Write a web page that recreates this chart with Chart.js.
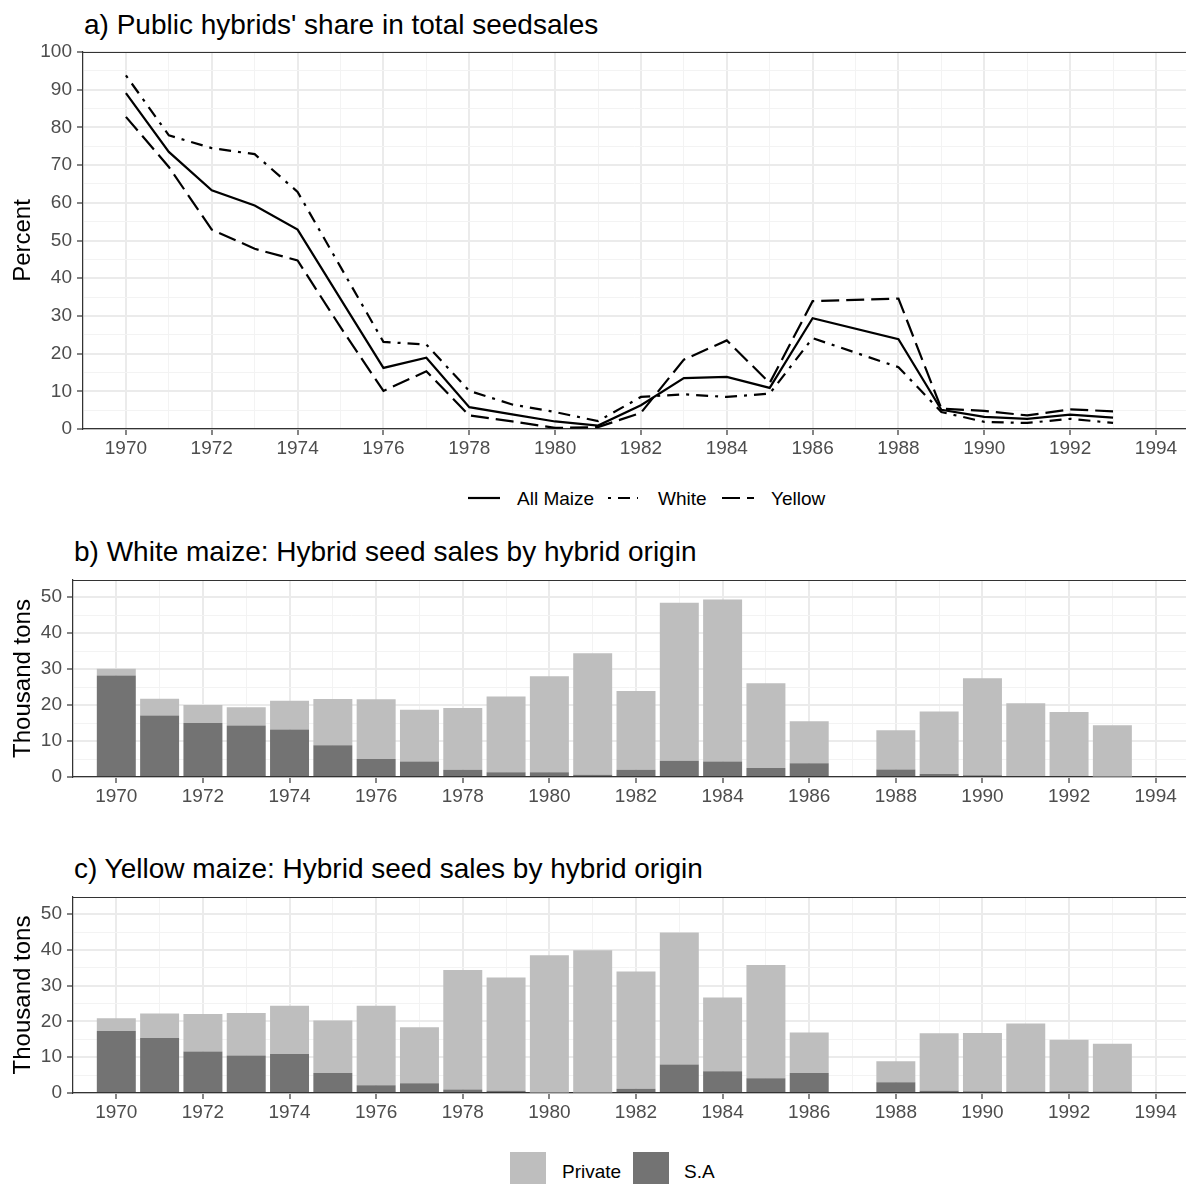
<!DOCTYPE html>
<html>
<head>
<meta charset="utf-8">
<title>Maize hybrid seed sales</title>
<script src="https://cdn.jsdelivr.net/npm/chart.js@4/dist/chart.umd.min.js"></script>
<style>
  body { margin: 0; background: #fff; font-family: "Liberation Sans", Arial, sans-serif; }
  #page { position: relative; width: 1186px; height: 1184px; overflow: hidden; }
  #page canvas { position: absolute; left: 0; }
  .title { position: absolute; font-size: 28px; line-height: 28px; color: #000; white-space: nowrap; }
  .key { position: absolute; font-size: 19px; line-height: 19px; color: #000; white-space: nowrap; }
  .swatch { position: absolute; width: 36px; height: 36px; }
</style>
</head>
<body>
<div id="page">
  <div class="title" style="left:84px; top:11px">a) Public hybrids' share in total seedsales</div>
  <canvas id="shareChart" width="1186" height="470" style="top:0"></canvas>

  <!-- line legend -->
  <svg style="position:absolute; left:460px; top:488px" width="310" height="20">
    <line x1="8" y1="10" x2="40" y2="10" stroke="#000" stroke-width="2.2"/>
    <line x1="148" y1="10" x2="178" y2="10" stroke="#000" stroke-width="2.2" stroke-dasharray="3 7 12 7"/>
    <line x1="262" y1="10" x2="294" y2="10" stroke="#000" stroke-width="2.2" stroke-dasharray="18 7"/>
  </svg>
  <div class="key" style="left:517px; top:489px">All Maize</div>
  <div class="key" style="left:658px; top:489px">White</div>
  <div class="key" style="left:771px; top:489px">Yellow</div>

  <div class="title" style="left:74px; top:538px">b) White maize: Hybrid seed sales by hybrid origin</div>
  <canvas id="whiteChart" width="1186" height="280" style="top:540px"></canvas>

  <div class="title" style="left:74px; top:855px">c) Yellow maize: Hybrid seed sales by hybrid origin</div>
  <canvas id="yellowChart" width="1186" height="283" style="top:857px"></canvas>

  <!-- bar legend -->
  <div class="swatch" style="left:510px; top:1152px; background:#BEBEBE"></div>
  <div class="key" style="left:562px; top:1162px">Private</div>
  <div class="swatch" style="left:633px; top:1152px; background:#737373"></div>
  <div class="key" style="left:684px; top:1162px">S.A</div>
</div>

<script>
// years with data (no figures for 1987)
const years = [1970, 1971, 1972, 1973, 1974, 1975, 1976, 1977, 1978, 1979, 1980, 1981,
               1982, 1983, 1984, 1985, 1986, 1988, 1989, 1990, 1991, 1992, 1993];

// public hybrids' share of seed sales, percent
const allMaize    = [89.1, 73.5, 63.3, 59.3, 52.9, 34.5, 16.2, 18.9, 5.8, 3.9, 2.0, 0.9,
                     6.3, 13.5, 13.8, 10.9, 29.4, 23.8, 5.1, 3.2, 2.7, 3.8, 3.0];
const whiteShare  = [93.8, 77.9, 74.5, 72.9, 62.9, 43.0, 23.1, 22.4, 10.1, 6.5, 4.5, 2.1,
                     8.5, 9.2, 8.5, 9.4, 24.1, 16.4, 4.5, 1.9, 1.6, 2.7, 1.6];
const yellowShare = [82.8, 69.5, 52.9, 47.8, 44.7, 27.0, 10.1, 15.3, 3.6, 2.0, 0.3, 0.5,
                     4.3, 18.4, 23.5, 12.2, 33.9, 34.6, 5.4, 4.8, 3.6, 5.2, 4.7];

// hybrid seed sales, thousand tons
const whiteSA       = [28.2, 17.1, 15.0, 14.3, 13.2, 8.8, 5.0, 4.3, 2.0, 1.3, 1.3, 0.6,
                       2.0, 4.5, 4.3, 2.5, 3.8, 2.1, 0.8, 0.5, 0.3, 0.3, 0.1];
const whitePrivate  = [1.9, 4.7, 5.0, 5.1, 8.0, 12.9, 16.6, 14.4, 17.2, 21.1, 26.7, 33.8,
                       21.9, 44.0, 45.1, 23.6, 11.7, 10.9, 17.4, 27.0, 20.2, 17.8, 14.3];
const yellowSA      = [17.3, 15.4, 11.6, 10.5, 10.9, 5.6, 2.2, 2.7, 1.0, 0.6, 0.1, 0.1,
                       1.2, 8.0, 6.1, 4.1, 5.6, 3.0, 0.6, 0.5, 0.4, 0.5, 0.4];
const yellowPrivate = [3.6, 6.8, 10.5, 11.9, 13.5, 14.7, 22.2, 15.7, 33.4, 31.7, 38.4, 39.8,
                       32.8, 36.9, 20.6, 31.7, 11.3, 5.9, 16.1, 16.3, 19.0, 14.4, 13.4];

// tick labels
const xTickYears = [1970, 1972, 1974, 1976, 1978, 1980, 1982, 1984, 1986, 1988, 1990, 1992, 1994];
const shareTicks = [0, 10, 20, 30, 40, 50, 60, 70, 80, 90, 100];
const tonsTicks  = [0, 10, 20, 30, 40, 50];

Chart.defaults.font.family = '"Liberation Sans", Arial, sans-serif';
Chart.defaults.animation = false;

const GRID = '#EBEBEB';
const GRID_MINOR = '#F3F3F3';
const INK = '#333333';

// top edge of the panel frame
const panelTop = {
  id: 'panelTop',
  afterDraw(chart) {
    const { ctx, chartArea } = chart;
    ctx.save();
    ctx.strokeStyle = INK;
    ctx.lineWidth = 1.2;
    ctx.beginPath();
    ctx.moveTo(chartArea.left, chartArea.top + 0.5);
    ctx.lineTo(chartArea.right, chartArea.top + 0.5);
    ctx.stroke();
    ctx.restore();
  }
};

function xAxis(height, stacked) {
  const major = c => xTickYears.includes(c.tick && c.tick.value);
  return {
    type: 'linear',
    min: 1969,
    max: 1994.7,
    offset: false,
    stacked: stacked,
    afterFit: s => { s.height = height; },
    ticks: {
      stepSize: 1,
      autoSkip: false,
      includeBounds: false,
      maxRotation: 0,
      color: '#4D4D4D',
      font: { size: 19 },
      padding: 2,
      callback: v => xTickYears.includes(v) ? String(v) : ''
    },
    grid: {
      offset: false,
      color: c => major(c) ? GRID : GRID_MINOR,
      lineWidth: c => major(c) ? 2 : 1,
      tickColor: c => major(c) ? INK : 'rgba(0,0,0,0)',
      tickLength: 6,
      tickWidth: 1.2
    },
    border: { color: INK, width: 1.2 }
  };
}

function yAxis(width, max, labels, titleText, stacked) {
  const major = c => labels.includes(c.tick && c.tick.value);
  return {
    min: 0,
    max: max,
    stacked: stacked,
    afterFit: s => { s.width = width; },
    title: {
      display: true,
      text: titleText,
      color: '#000',
      font: { size: 24 },
      padding: { top: 9, bottom: 0 }
    },
    ticks: {
      stepSize: 5,
      autoSkip: false,
      includeBounds: false,
      color: '#4D4D4D',
      font: { size: 19 },
      padding: 5,
      callback: v => labels.includes(v) ? String(v) : ''
    },
    grid: {
      color: c => major(c) ? GRID : GRID_MINOR,
      lineWidth: c => major(c) ? 2 : 1,
      tickColor: c => major(c) ? INK : 'rgba(0,0,0,0)',
      tickLength: 6,
      tickWidth: 1.2
    },
    border: { color: INK, width: 1.2 }
  };
}

function lineSet(label, data, dash) {
  return {
    label: label,
    data: data,
    borderColor: '#000',
    borderWidth: 2.2,
    borderDash: dash,
    borderCapStyle: 'butt',
    pointRadius: 0,
    tension: 0,
    fill: false
  };
}

// a) public share lines
new Chart(document.getElementById('shareChart'), {
  type: 'line',
  data: {
    labels: years,
    datasets: [
      lineSet('All Maize', allMaize, []),
      lineSet('White', whiteShare, [3, 7, 12, 7]),
      lineSet('Yellow', yellowShare, [18, 7])
    ]
  },
  options: {
    responsive: false,
    layout: { padding: { top: 52, left: 0, right: 0, bottom: 0 } },
    plugins: { legend: { display: false }, tooltip: { enabled: false } },
    scales: {
      x: xAxis(41, false),
      y: yAxis(83, 100, shareTicks, 'Percent', false)
    }
  },
  plugins: [panelTop]
});

function barChart(id, sa, priv, padTop, xHeight) {
  return new Chart(document.getElementById(id), {
    type: 'bar',
    data: {
      labels: years,
      datasets: [
        { label: 'S.A', data: sa, backgroundColor: '#737373', borderWidth: 0 },
        { label: 'Private', data: priv, backgroundColor: '#BEBEBE', borderWidth: 0 }
      ]
    },
    options: {
      responsive: false,
      barPercentage: 0.9,
      categoryPercentage: 1,
      layout: { padding: { top: padTop, left: 0, right: 0, bottom: 0 } },
      plugins: { legend: { display: false }, tooltip: { enabled: false } },
      scales: {
        x: xAxis(xHeight, true),
        y: yAxis(73, 54.8, tonsTicks, 'Thousand tons', true)
      }
    },
    plugins: [panelTop]
  });
}

// b) white maize, c) yellow maize
barChart('whiteChart', whiteSA, whitePrivate, 40, 43);
barChart('yellowChart', yellowSA, yellowPrivate, 40, 47);
</script>
</body>
</html>
